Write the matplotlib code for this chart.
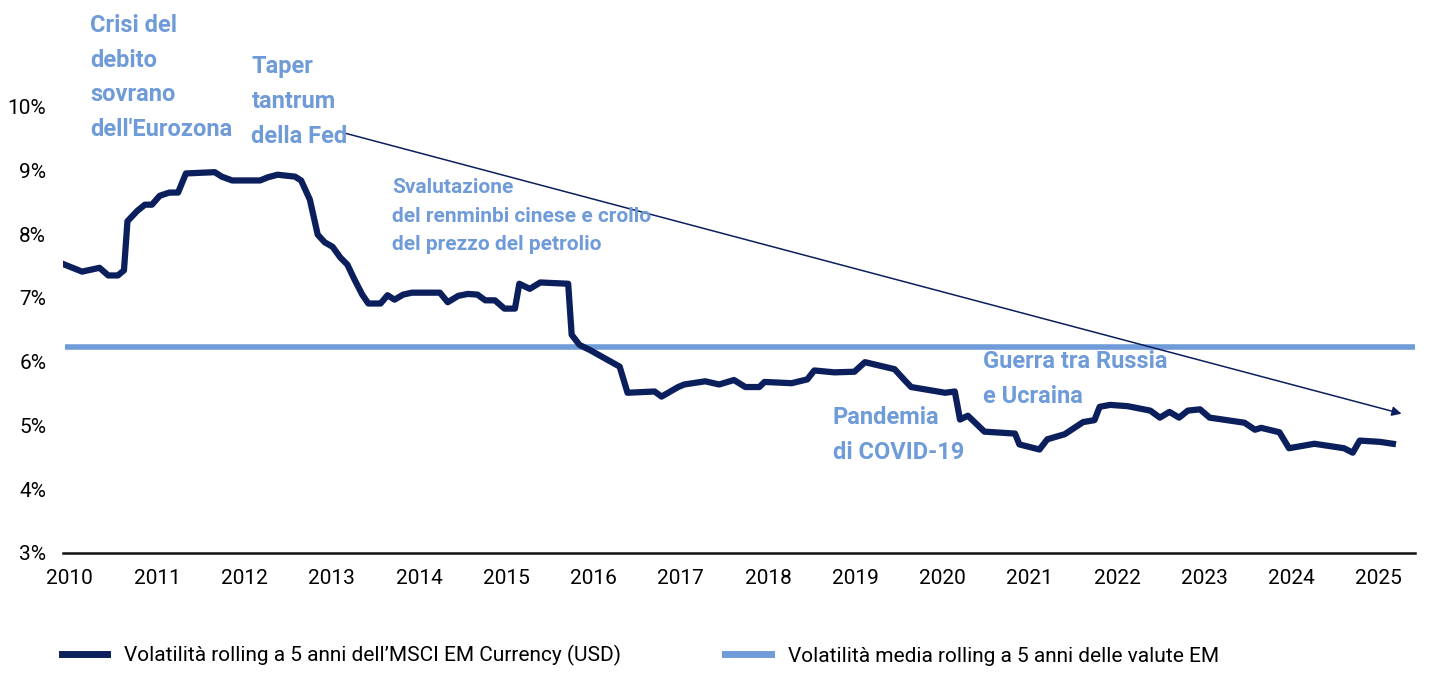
import matplotlib.pyplot as plt
from matplotlib.lines import Line2D

# rolling 5y volatility of MSCI EM Currency (USD)
years = [2009.94, 2010.14, 2010.34, 2010.44, 2010.55, 2010.62, 2010.66, 2010.77, 2010.86, 2010.94,
         2011.03, 2011.14, 2011.24, 2011.33, 2011.66, 2011.74, 2011.86, 2012.18, 2012.27, 2012.38,
         2012.58, 2012.65, 2012.75, 2012.84, 2012.92, 2013.01, 2013.10, 2013.18, 2013.26, 2013.35,
         2013.42, 2013.56, 2013.64, 2013.72, 2013.82, 2013.92, 2014.24, 2014.33, 2014.45, 2014.56,
         2014.67, 2014.76, 2014.87, 2014.98, 2015.10, 2015.15, 2015.27, 2015.39, 2015.71, 2015.75,
         2015.84, 2015.96, 2016.13, 2016.30, 2016.39, 2016.70, 2016.78, 2016.97, 2017.04, 2017.28,
         2017.44, 2017.61, 2017.74, 2017.90, 2017.96, 2018.27, 2018.45, 2018.53, 2018.76, 2018.99,
         2019.11, 2019.45, 2019.57, 2019.64, 2020.03, 2020.14, 2020.20, 2020.29, 2020.48, 2020.83,
         2020.88, 2021.11, 2021.20, 2021.40, 2021.61, 2021.74, 2021.80, 2021.92, 2022.12, 2022.38,
         2022.49, 2022.60, 2022.71, 2022.81, 2022.95, 2023.06, 2023.46, 2023.58, 2023.65, 2023.86,
         2023.97, 2024.26, 2024.60, 2024.70, 2024.78, 2025.01, 2025.16]
vol = [7.52, 7.41, 7.47, 7.35, 7.35, 7.43, 8.20, 8.36, 8.46, 8.46,
       8.60, 8.65, 8.65, 8.95, 8.97, 8.90, 8.84, 8.84, 8.89, 8.93,
       8.90, 8.84, 8.54, 7.99, 7.87, 7.80, 7.63, 7.52, 7.29, 7.05,
       6.91, 6.91, 7.04, 6.97, 7.05, 7.08, 7.08, 6.93, 7.03, 7.06,
       7.05, 6.96, 6.96, 6.83, 6.83, 7.22, 7.14, 7.24, 7.22, 6.42,
       6.26, 6.18, 6.05, 5.92, 5.51, 5.53, 5.45, 5.60, 5.64, 5.69,
       5.64, 5.71, 5.60, 5.60, 5.68, 5.66, 5.72, 5.86, 5.83, 5.84,
       5.99, 5.88, 5.70, 5.60, 5.51, 5.53, 5.09, 5.15, 4.90, 4.87,
       4.70, 4.62, 4.78, 4.86, 5.05, 5.08, 5.29, 5.32, 5.30, 5.23,
       5.12, 5.21, 5.12, 5.23, 5.25, 5.12, 5.04, 4.93, 4.96, 4.89,
       4.64, 4.71, 4.64, 4.57, 4.76, 4.74, 4.71]
avg_vol = 6.23
avg_span = [2009.94, 2025.41]
trend_start = (2013.13, 9.59)
trend_end = (2025.29, 5.17)

x_ticks = list(range(2010, 2026))
y_ticks = [3, 4, 5, 6, 7, 8, 9, 10]

events = [
    ("Crisi del\ndebito\nsovrano\ndell'Eurozona", 2010.23, 11.45, 17),
    ("Taper\ntantrum\ndella Fed", 2012.08, 10.8, 17),
    ("Svalutazione\ndel renminbi cinese e crollo\ndel prezzo del petrolio", 2013.69, 8.88, 15),
    ("Guerra tra Russia\ne Ucraina", 2020.46, 6.18, 17),
    ("Pandemia\ndi COVID-19", 2018.74, 5.3, 17),
]

DARK = "#0b1f5c"
LIGHT = "#6f9bd8"
plt.rcParams["font.family"] = ["Roboto", "DejaVu Sans"]

fig = plt.figure(figsize=(14.29, 6.85), dpi=100)
ax = fig.add_axes([0.044, 0.193, 0.946, 0.793])

ax.plot(avg_span, [avg_vol, avg_vol], color=LIGHT, lw=4, solid_capstyle="butt")
ax.plot(years, vol, color=DARK, lw=4.5, solid_joinstyle="round")
ax.annotate("", xy=trend_end, xytext=trend_start,
            arrowprops=dict(arrowstyle="-|>", color=DARK, lw=1.1, mutation_scale=14))

for txt, x, y, fs in events:
    ax.text(x, y, txt, color=LIGHT, fontsize=fs, fontweight="bold", va="top", ha="left",
            linespacing=1.65)

ax.set_xlim(2009.92, 2025.41)
ax.set_ylim(3, 11.52)
ax.set_xticks(x_ticks)
ax.set_xticklabels([str(t) for t in x_ticks])
ax.set_yticks(y_ticks)
ax.set_yticklabels([f"{t}%" for t in y_ticks])
for s in ["top", "right", "left"]:
    ax.spines[s].set_visible(False)
ax.spines["bottom"].set_color("#111111")
ax.spines["bottom"].set_linewidth(1.8)
ax.tick_params(axis="y", length=0, labelsize=15, pad=12)
ax.tick_params(axis="x", length=0, labelsize=15, pad=12)

handles = [Line2D([], [], color=DARK, lw=5),
           Line2D([], [], color=LIGHT, lw=5)]
labels = ["Volatilità rolling a 5 anni dell’MSCI EM Currency (USD)",
          "Volatilità media rolling a 5 anni delle valute EM"]
fig.legend(handles, labels, loc="lower left", bbox_to_anchor=(0.03, 0.0), ncol=2,
           frameon=False, fontsize=15, columnspacing=5, handlelength=2.2)

fig.savefig("out.png", dpi=100)
